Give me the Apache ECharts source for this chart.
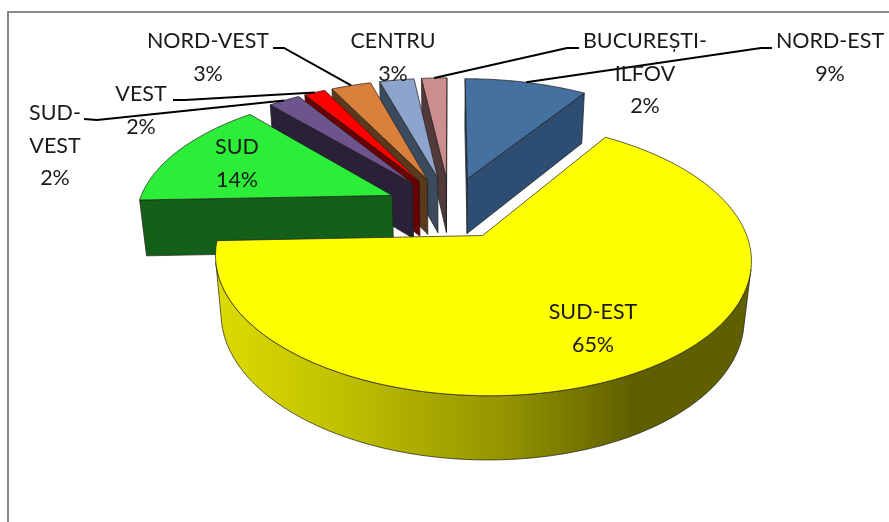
<!DOCTYPE html>
<html>
<head>
<meta charset="utf-8">
<style>html,body{margin:0;padding:0;background:#fff}#c{width:889px;height:522px}</style>
<script src="https://cdn.jsdelivr.net/npm/echarts@6/dist/echarts.min.js"></script>
</head>
<body>
<div id="c"></div>
<script>
// Data, clockwise from the top of the pie
const regions = ['NORD-EST','SUD-EST','SUD','SUD-\nVEST','VEST','NORD-VEST','CENTRU','BUCUREȘTI-\nILFOV'];
const shares = [9.2,65.2,14.1,2.4,1.6,3.0,2.6,1.9];
const shareLabels = ['9%','65%','14%','2%','2%','3%','3%','2%'];

// Styles
const topColors = ['#44719F','#FFFF00','#2CEE38','#6D548C','#FF0000','#D9813C','#8DA4CC','#CC8E8E'];
const wallColors = ['#2D4D72','#8F8F00','#156018','#2A2138','#6B0000','#5A3A1A','#3C4A5E','#533A3A'];
const paintOrder = [0,7,6,5,4,3,2,1];

// Pie projection: radius 1 in plane units, explode distance, perspective
const P = {cx:450, cy:207.5, a:124.5, b:255, k:0.16, m:0.023, H:57.5, d:0.25};
// Label layout [centre x, top y, leader start, leader elbow]
const labelBox = [
  {x:830,y:25,from:[772,48],elbow:[761,48]},
  {x:593,y:296},
  {x:237,y:131},
  {x:55,y:97,from:[84,119],elbow:[97,120]},
  {x:141,y:78,from:[173,100],elbow:[185,100]},
  {x:208,y:25,from:[273,48],elbow:[284,48]},
  {x:393,y:25},
  {x:645,y:25,from:[579,48],elbow:[567,48]}
];

const total = shares.reduce((s,v)=>s+v,0);
const rad = Math.PI/180;
function project(u,v,z){
  const den = 1+P.k*v+P.m*z;
  return [P.cx+P.b*u/den, P.cy+(-P.a*v+P.H*z)/den];
}
function sliceGeometry(i){
  let before = 0;
  for(let j=0;j<i;j++) before+=shares[j];
  const start = before/total*360, end = (before+shares[i])/total*360, mid=(start+end)/2;
  const ou=P.d*Math.sin(mid*rad), ov=P.d*Math.cos(mid*rad);
  const arc=[];
  const steps=Math.max(2,Math.ceil(end-start));
  for(let s=0;s<=steps;s++){
    const t=(start+(end-start)*s/steps)*rad;
    arc.push([ou+Math.sin(t),ov+Math.cos(t)]);
  }
  const mu=ou+Math.sin(mid*rad), mv=ov+Math.cos(mid*rad);
  return {apex:[ou,ov],arc,rim:[mu,mv]};
}
function facesViewer(A,B){
  const pts=[project(A[0],A[1],0),project(B[0],B[1],0),project(B[0],B[1],1),project(A[0],A[1],1)];
  let s=0;
  for(let i=0;i<4;i++){const p=pts[i],q=pts[(i+1)%4];s+=p[0]*q[1]-q[0]*p[1];}
  return s<0;
}
function wallPolygon(run){
  const top=run.map(p=>project(p[0],p[1],0));
  const bottom=run.slice().reverse().map(p=>project(p[0],p[1],1));
  return top.concat(bottom);
}
const edge={stroke:'#1c1c1c',lineWidth:0.7};
const font='21.5px Lato, "Open Sans", sans-serif';

function renderItem(params,api){
  const i=api.value(0);
  const g=sliceGeometry(i);
  const order=paintOrder.indexOf(i)*10;
  const children=[];
  const wallFill=i===1
    ? new echarts.graphic.LinearGradient(0,0,1,0,[
        {offset:0,color:'#DCDC00'},{offset:0.25,color:'#BEBE00'},
        {offset:0.55,color:'#929200'},{offset:0.78,color:'#5F5F00'},{offset:1,color:'#5F5F00'}])
    : wallColors[i];
  const first=g.arc[0], last=g.arc[g.arc.length-1];
  // radial walls
  [[g.apex,first],[last,g.apex]].forEach(e=>{
    if(facesViewer(e[0],e[1])){
      children.push({type:'polygon',z2:order+1,silent:true,
        shape:{points:wallPolygon(e)},style:Object.assign({fill:wallColors[i]},edge)});
    }
  });
  // outer wall: contiguous viewer-facing runs of the rim
  let run=[];
  const flush=()=>{
    if(run.length>1){
      children.push({type:'polygon',z2:order+2,silent:true,
        shape:{points:wallPolygon(run)},style:Object.assign({fill:wallFill},edge)});
    }
    run=[];
  };
  for(let s=0;s<g.arc.length-1;s++){
    if(facesViewer(g.arc[s],g.arc[s+1])){
      if(!run.length) run.push(g.arc[s]);
      run.push(g.arc[s+1]);
    } else flush();
  }
  flush();
  // top face
  const topPts=[g.apex].concat(g.arc).map(p=>project(p[0],p[1],0));
  children.push({type:'polygon',z2:order+3,silent:true,
    shape:{points:topPts},style:Object.assign({fill:topColors[i]},edge)});
  // leader
  const box=labelBox[i];
  if(box.from){
    const end=project(g.rim[0],g.rim[1],0);
    children.push({type:'polyline',z2:200,silent:true,
      shape:{points:[box.from,box.elbow,end]},
      style:{stroke:'#000',lineWidth:2,fill:null}});
  }
  // label
  children.push({type:'text',z2:300,silent:true,
    style:{x:box.x,y:box.y,text:api.value(2)+'\n'+shareLabels[i],font:font,
      lineHeight:32.5,align:'center',verticalAlign:'top',textAlign:'center',textVerticalAlign:'top',fill:'#1a1a1a'}});
  return {type:'group',children};
}

const chart=echarts.init(document.getElementById('c'),null,{renderer:'canvas'});
chart.setOption({
  animation:false,
  backgroundColor:'#fff',
  graphic:[{type:'rect',z:-1,silent:true,
    shape:{x:8,y:12,width:1000,height:700},
    style:{fill:'#fff',stroke:'#888',lineWidth:2}}],
  series:[{
    type:'custom',
    coordinateSystem:'none',
    renderItem,
    silent:true,
    data:regions.map((name,i)=>({name,value:[i,shares[i],name]})),
    dimensions:[{name:'i',type:'number'},{name:'share',type:'number'},{name:'region',type:'ordinal'}]
  }]
});
</script>
</body>
</html>
